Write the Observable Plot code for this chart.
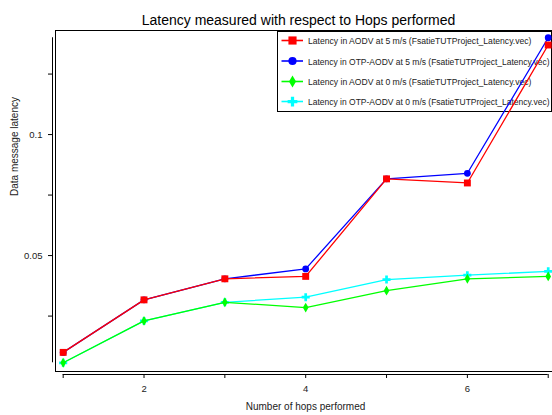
<!DOCTYPE html>
<html><head><meta charset="utf-8">
<script src="https://cdn.jsdelivr.net/npm/d3@7"></script>
<script src="https://cdn.jsdelivr.net/npm/@observablehq/plot@0.6"></script>
<style>
html,body{margin:0;padding:0;background:#fff;}
#chart{position:relative;width:552px;height:415px;overflow:hidden;}
</style></head><body><div id="chart"></div>
<script>
// ---- data ----
const hops = [1, 2, 3, 4, 5, 6, 7];
const aodv5 = [0.0100, 0.0317, 0.0404, 0.0414, 0.0817, 0.0800, 0.1370];
const otp5  = [0.0100, 0.0317, 0.0404, 0.0445, 0.0817, 0.0840, 0.1400];
const aodv0 = [0.0057, 0.0230, 0.0307, 0.0285, 0.0355, 0.0404, 0.0414];
const otp0  = [0.0057, 0.0230, 0.0307, 0.0328, 0.0401, 0.0419, 0.0435];
const seriesNames = [
  "Latency in AODV at 5 m/s (FsatieTUTProject_Latency.vec)",
  "Latency in OTP-AODV at 5 m/s (FsatieTUTProject_Latency.vec)",
  "Latency in AODV at 0 m/s (FsatieTUTProject_Latency.vec)",
  "Latency in OTP-AODV at 0 m/s (FsatieTUTProject_Latency.vec)"
];
const seriesValues = [aodv5, otp5, aodv0, otp0];
const seriesColors = ["#ff0000", "#0000ff", "#00ff00", "#00ffff"];
const seriesSymbols = ["square", "circle", "diamond", "cross"];
const seriesR = [3.9, 3.4, 3.0, 3.4];
const drawOrder = [1, 0, 3, 2];
const xTicks = [1, 2, 3, 4, 5, 6, 7];
const xTickLabels = ["", "2", "", "4", "", "6", ""];
const yTicks = [0.025, 0.05, 0.075, 0.1, 0.125];
const yTickLabels = ["", "0.05", "", "0.1", ""];
const title = "Latency measured with respect to Hops performed";
const xLabel = "Number of hops performed";
const yLabel = "Data message latency";

// ---- build ----
const FONT = "'Liberation Sans', Arial, sans-serif";
const d3Sym = {square: d3.symbolSquare, circle: d3.symbolCircle, diamond: d3.symbolDiamond, cross: d3.symbolCross};

const rows = [];
seriesValues.forEach((vals, s) => vals.forEach((v, i) => rows.push({s, hop: hops[i], v})));
const allV = rows.map(d => d.v);
const vMin = d3.min(allV), vMax = d3.max(allV);

function legend() {
  const g = d3.create("svg:g").attr("class", "legend");
  g.append("rect").attr("x", 277.5).attr("y", 30.5).attr("width", 274).attr("height", 81)
    .attr("fill", "white").attr("stroke", "black");
  g.append("line").attr("x1", 277).attr("x2", 552).attr("y1", 31.5).attr("y2", 31.5).attr("stroke", "black");
  const rowY = [40.5, 61, 81.5, 101.5];
  seriesNames.forEach((name, s) => {
    const y = rowY[s];
    g.append("line").attr("x1", 281.5).attr("x2", 303).attr("y1", y).attr("y2", y)
      .attr("stroke", seriesColors[s]).attr("stroke-width", 1.6);
    g.append("path").attr("transform", `translate(292.5,${y})`)
      .attr("d", d3.symbol(d3Sym[seriesSymbols[s]], Math.PI * (seriesR[s] + 0.7) ** 2)())
      .attr("fill", seriesColors[s]);
    g.append("text").attr("class", "legend-text")
      .attr("data-target", name.includes("OTP") ? 242 : 224)
      .attr("transform", `translate(308,${y + 3.5})`)
      .attr("font-size", 9.5)
      .attr("text-anchor", "start")
      .attr("font-family", FONT).attr("fill", "#222").text(name);
  });
  return g.node();
}

const seriesMarks = [];
drawOrder.forEach(s => {
  const data = rows.filter(d => d.s === s);
  seriesMarks.push(Plot.line(data, {x: "hop", y: "v", stroke: seriesColors[s], strokeWidth: 1.3}));
  seriesMarks.push(Plot.dot(data, {x: "hop", y: "v", fill: seriesColors[s], symbol: seriesSymbols[s], r: seriesR[s]}));
});

const chart = Plot.plot({
  width: 552, height: 415,
  marginLeft: 55, marginRight: 0, marginTop: 30, marginBottom: 44,
  style: {fontFamily: FONT, background: "transparent", overflow: "visible"},
  x: {domain: [0.905, 7.053], axis: null},
  y: {domain: [0.0021, 0.143], axis: null},
  marks: [
    Plot.frame({stroke: "black"}),
    legend,
    Plot.ruleY([vMin], {x1: hops[0], x2: hops[hops.length - 1], y: () => 0.0021, dy: 3, stroke: "black"}),
    Plot.ruleX([0.905], {y1: vMin, y2: vMax, dx: -3, stroke: "black"}),
    Plot.axisX(xTicks, {anchor: "bottom", tickSize: 4, dy: 3, tickPadding: 7, fontSize: 9.5,
      tickFormat: d => xTickLabels[xTicks.indexOf(d)], label: null, fill: "#222"}),
    Plot.axisY(yTicks, {anchor: "left", tickSize: 4, dx: -3, tickPadding: 6, fontSize: 9.5,
      tickFormat: d => yTickLabels[yTicks.indexOf(d)], label: null, fill: "#222"}),
    ...seriesMarks,
    Plot.text([title], {frameAnchor: "top", dy: -15, dx: -5.5, fontSize: 14, fill: "black"}),
    Plot.text([xLabel], {frameAnchor: "bottom", dy: 38, dx: 1.5, fontSize: 10, fill: "#222"}),
    Plot.text([yLabel], {frameAnchor: "left", dx: -41, dy: -5, rotate: -90, fontSize: 10, fill: "#222"})
  ]
});
document.getElementById("chart").appendChild(chart);
// condense legend texts horizontally to the reference widths
chart.querySelectorAll(".legend-text").forEach(t => {
  const w = t.getComputedTextLength();
  const k = (+t.getAttribute("data-target")) / w;
  t.setAttribute("transform", t.getAttribute("transform") + ` scale(${k},1)`);
});
</script></body></html>
